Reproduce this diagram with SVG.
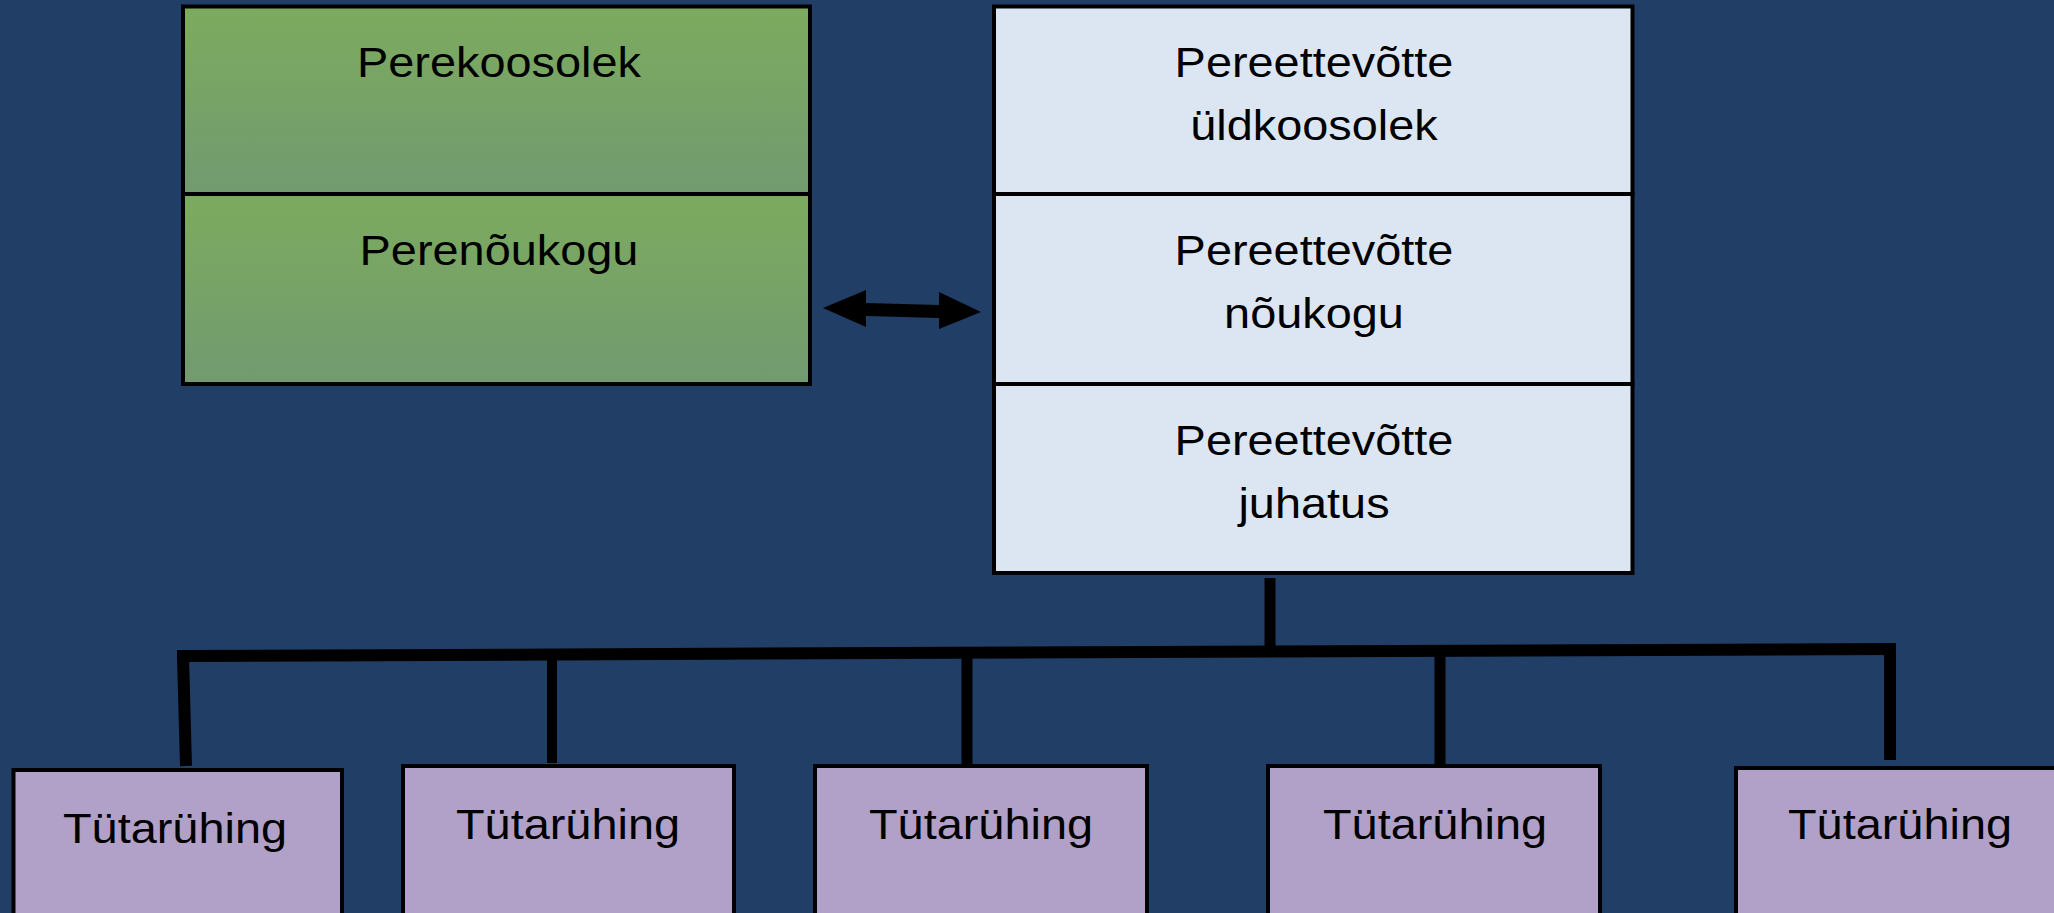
<svg xmlns="http://www.w3.org/2000/svg" width="2054" height="913" viewBox="0 0 2054 913">
<defs>
<linearGradient id="gr" x1="0" y1="0" x2="0" y2="1">
<stop offset="0" stop-color="#7cab5e"/>
<stop offset="1" stop-color="#729a70"/>
</linearGradient>
<style>
.cell{stroke:#000;stroke-width:4}
.g{fill:url(#gr)}
.b{fill:#dce6f2}
.p{fill:#b1a0c7}
.t{font-family:"Liberation Sans",Arial,sans-serif;font-size:43px;fill:#000;text-anchor:middle}
.ln{stroke:#000;fill:none;stroke-linecap:butt}
</style>
</defs>
<rect width="2054" height="913" fill="#213f66"/>

<g id="perekoosolek">
<rect class="cell g" x="183" y="6.5" width="627" height="187.5"/>
<text class="t" transform="translate(499 77) scale(1.09 1)">Perekoosolek</text>
</g>
<g id="perenoukogu">
<rect class="cell g" x="183" y="194" width="627" height="190"/>
<text class="t" transform="translate(499 265) scale(1.09 1)">Perenõukogu</text>
</g>

<g id="yldkoosolek">
<rect class="cell b" x="994" y="6.5" width="638.5" height="187.5"/>
<text class="t" transform="translate(1314 77) scale(1.09 1)">Pereettevõtte</text>
<text class="t" transform="translate(1314 140) scale(1.09 1)">üldkoosolek</text>
</g>
<g id="noukogu">
<rect class="cell b" x="994" y="194" width="638.5" height="190"/>
<text class="t" transform="translate(1314 265) scale(1.09 1)">Pereettevõtte</text>
<text class="t" transform="translate(1314 328) scale(1.09 1)">nõukogu</text>
</g>
<g id="juhatus">
<rect class="cell b" x="994" y="384" width="638.5" height="189"/>
<text class="t" transform="translate(1314 455) scale(1.09 1)">Pereettevõtte</text>
<text class="t" transform="translate(1314 518) scale(1.09 1)">juhatus</text>
</g>

<g id="t1">
<rect class="cell p" x="13.5" y="770" width="328.5" height="160"/>
<text class="t" transform="translate(175 843) scale(1.09 1)">Tütarühing</text>
</g>
<g id="t2">
<rect class="cell p" x="403" y="766" width="331" height="160"/>
<text class="t" transform="translate(568 839) scale(1.09 1)">Tütarühing</text>
</g>
<g id="t3">
<rect class="cell p" x="815" y="766" width="332" height="160"/>
<text class="t" transform="translate(981 839) scale(1.09 1)">Tütarühing</text>
</g>
<g id="t4">
<rect class="cell p" x="1268" y="766" width="332" height="160"/>
<text class="t" transform="translate(1435 839) scale(1.09 1)">Tütarühing</text>
</g>
<g id="t5">
<rect class="cell p" x="1736" y="768" width="340" height="160"/>
<text class="t" transform="translate(1900 839) scale(1.09 1)">Tütarühing</text>
</g>

<g id="connectors">
<polygon fill="#000" points="823,308 866,290 866,303 939,305 939,292 981,312 939,329 939,318 866,316 866,327"/>
<line class="ln" x1="1270" y1="578" x2="1270" y2="652" stroke-width="11"/>
<line class="ln" x1="177" y1="656" x2="1896" y2="649" stroke-width="12"/>
<line class="ln" x1="183" y1="656" x2="186" y2="766" stroke-width="12"/>
<line class="ln" x1="552" y1="655" x2="552" y2="763" stroke-width="10"/>
<line class="ln" x1="967" y1="654" x2="967" y2="765" stroke-width="11"/>
<line class="ln" x1="1440" y1="652" x2="1440" y2="765" stroke-width="11"/>
<line class="ln" x1="1890" y1="649" x2="1890" y2="760" stroke-width="12"/>
</g>
</svg>
